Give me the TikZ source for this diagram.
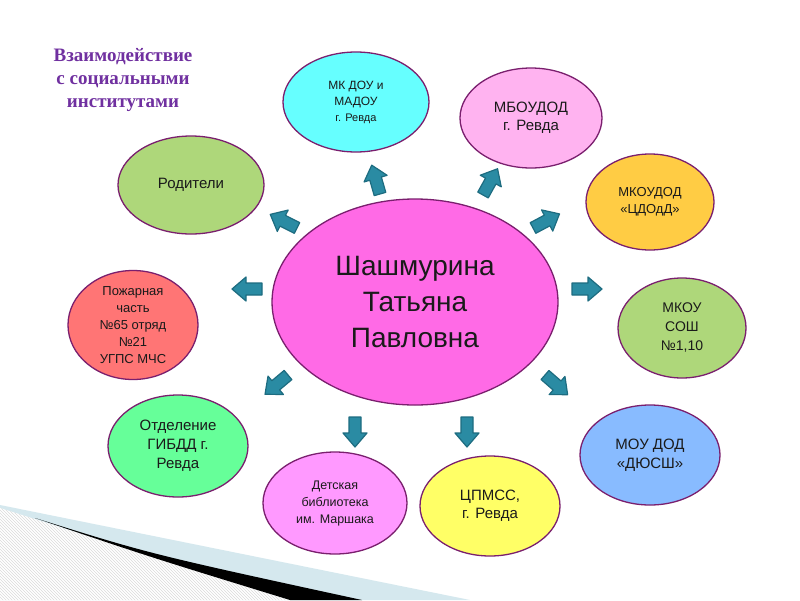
\documentclass[tikz,border=0pt]{standalone}
\usepackage{fontspec}
\setmainfont{Liberation Sans}
\newfontfamily\titlefont{Liberation Serif}
\usetikzlibrary{shapes.geometric,patterns}
\definecolor{rim}{HTML}{7A1F6E}
\definecolor{txt}{HTML}{1A1A1A}
\definecolor{ttl}{HTML}{7030A0}
\definecolor{cMain}{HTML}{FF6AE6}
\definecolor{cCyan}{HTML}{66FFFF}
\definecolor{cPinkL}{HTML}{FFB3F0}
\definecolor{cLime}{HTML}{AED77A}
\definecolor{cOrange}{HTML}{FFCC44}
\definecolor{cBlue}{HTML}{88BBFF}
\definecolor{cYellow}{HTML}{FFFF66}
\definecolor{cViolet}{HTML}{FF99FF}
\definecolor{cMint}{HTML}{66FF99}
\definecolor{cRed}{HTML}{FF7575}
\definecolor{arrFill}{HTML}{2A8BA3}
\definecolor{arrLine}{HTML}{1D6C80}
\definecolor{swoosh}{HTML}{D5E8EE}
\tikzset{
  bub/.style={ellipse, draw=rim, line width=1.3pt, inner sep=0pt, align=center, text=txt},
  arrstyle/.style={fill=arrFill, draw=arrLine, line width=1.2pt, line join=round},
  titlestyle/.style={align=center, text=ttl, font=\titlefont\bfseries\fontsize{19}{23}\selectfont}
}
\newcommand\blockarr[2]{%
  \begin{scope}[shift={(#1)}, rotate=#2]
    \draw[arrstyle] (0,-6) -- (16,-6) -- (16,-12) -- (30,0) -- (16,12) -- (16,6) -- (0,6) -- cycle;
  \end{scope}}
\begin{document}
\begin{tikzpicture}[x=1pt,y=-1pt]
\useasboundingbox (0,0) rectangle (800,600);
\fill[white] (0,0) rectangle (800,600);
% bottom-left decoration
\fill[swoosh] (0,505) -- (470,600) -- (0,600) -- cycle;
\fill[white] (0,508) -- (290,600) -- (0,600) -- cycle;
\fill[pattern=north west lines, pattern color=black!14] (0,508) -- (290,600) -- (0,600) -- cycle;
\fill[black] (35,518) .. controls (150,554) .. (362,600) -- (290,600) .. controls (150,557) .. (35,518) -- cycle;

% title
\node[titlestyle] (title) at (123,80) {Взаимодействие\\с социальными\\институтами};

% centre
\node[bub, fill=cMain, minimum width=286, minimum height=206, font=\fontsize{28}{36}\selectfont] (main) at (415,302) {Шашмурина\\Татьяна\\Павловна};

% satellites
\node[bub, fill=cCyan, minimum width=146, minimum height=100, font=\fontsize{12}{16}\selectfont] (mkdou) at (356,102)
  {МК ДОУ и\\МАДОУ\\{\fontsize{11}{16}\selectfont г. Ревда}};
\node[bub, fill=cPinkL, minimum width=142, minimum height=100, font=\fontsize{15}{18}\selectfont] (mboudod) at (531,118)
  {МБОУДОД\\г. Ревда};
\node[bub, fill=cLime, minimum width=146, minimum height=98, font=\fontsize{15}{18}\selectfont] (rod) at (191,185)
  {Родители};
\node[bub, fill=cOrange, minimum width=128, minimum height=96, font=\fontsize{13}{17}\selectfont] (mkoudod) at (650,202)
  {МКОУДОД\\«ЦДОдД»};
\node[bub, fill=cLime, minimum width=128, minimum height=100, font=\fontsize{14}{19}\selectfont] (mkou) at (682,328)
  {МКОУ\\СОШ\\№1,10};
\node[bub, fill=cRed, minimum width=130, minimum height=106, font=\fontsize{13}{17}\selectfont] (pozh) at (133,325)
  {Пожарная\\часть\\№65 отряд\\№21\\УГПС МЧС};
\node[bub, fill=cMint, minimum width=140, minimum height=102, font=\fontsize{15}{19}\selectfont] (gibdd) at (178,446)
  {Отделение\\ГИБДД г.\\Ревда};
\node[bub, fill=cViolet, minimum width=144, minimum height=102, font=\fontsize{12.5}{17}\selectfont] (bibl) at (335,503)
  {Детская\\библиотека\\им. Маршака};
\node[bub, fill=cYellow, minimum width=140, minimum height=100, font=\fontsize{15}{18}\selectfont] (cpmss) at (490,506)
  {ЦПМСС,\\г. Ревда};
\node[bub, fill=cBlue, minimum width=140, minimum height=100, font=\fontsize{15}{19}\selectfont] (dyussh) at (650,455)
  {МОУ ДОД\\«ДЮСШ»};

% arrows (tails)
\coordinate (a1) at (380,194);
\coordinate (a2) at (483,195);
\coordinate (a3) at (297,228);
\coordinate (a4) at (533,228);
\coordinate (a5) at (262,289);
\coordinate (a6) at (572,289);
\coordinate (a7) at (288,375);
\coordinate (a8) at (545,375);
\coordinate (a9) at (355,417);
\coordinate (a10) at (467,417);
\blockarr{a1}{106}
\blockarr{a2}{61}
\blockarr{a3}{153}
\blockarr{a4}{28}
\blockarr{a5}{180}
\blockarr{a6}{0}
\blockarr{a7}{220}
\blockarr{a8}{-41}
\blockarr{a9}{-90}
\blockarr{a10}{-90}
\end{tikzpicture}
\end{document}
